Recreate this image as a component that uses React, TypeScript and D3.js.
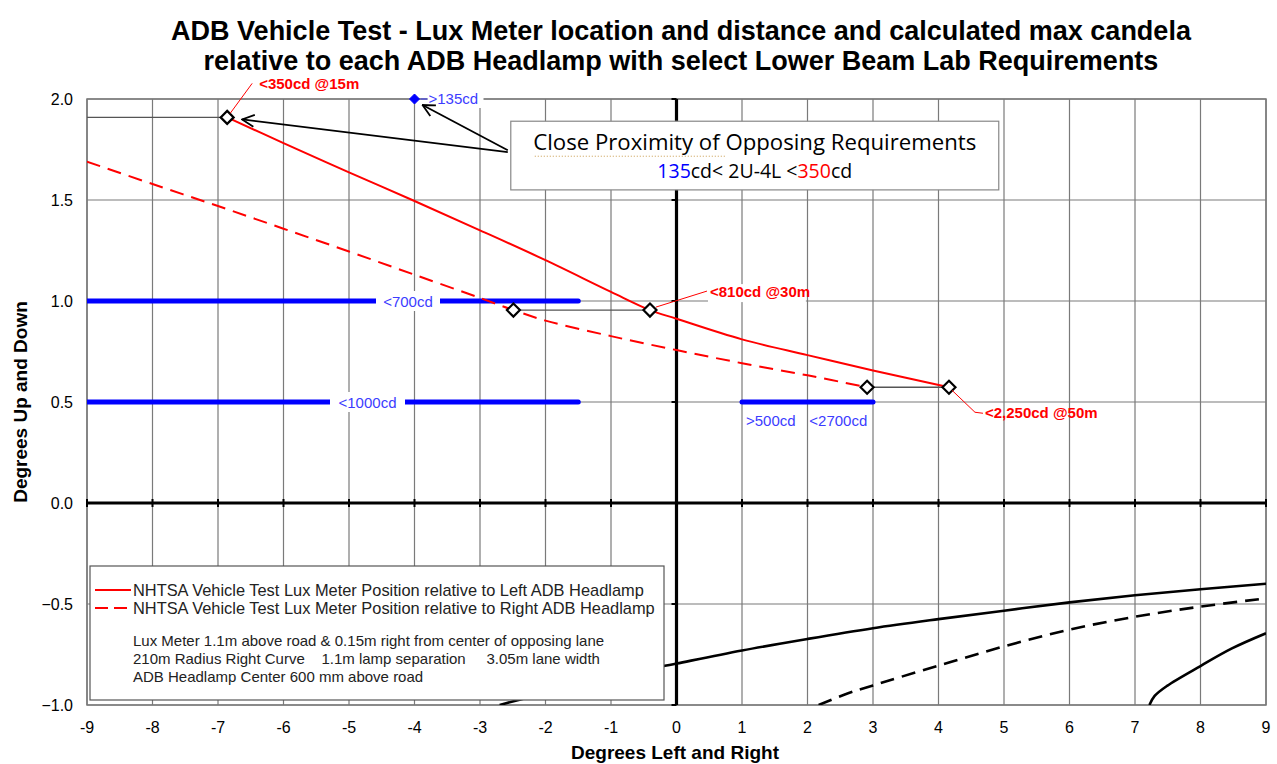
import React from "react";
import * as d3 from "d3";

// Lux meter path relative to the left ADB headlamp (degrees L/R, degrees U/D)
const leftLampDeg = [-6.86, -6, -5, -4, -3, -2, -1, -0.405, 0, 1, 2, 3, 4.16];
const leftLampUp = [1.909, 1.782, 1.637, 1.495, 1.35, 1.202, 1.045, 0.955, 0.912, 0.81, 0.732, 0.656, 0.573];

// Lux meter path relative to the right ADB headlamp
const rightLampDeg = [-9, -8, -7, -6, -5, -4, -3, -2.49, -2, -1, 0, 1, 2, 2.91];
const rightLampUp = [1.69, 1.579, 1.47, 1.358, 1.245, 1.13, 1.015, 0.955, 0.903, 0.826, 0.757, 0.692, 0.632, 0.573];

// Road geometry curves below the horizon
const roadSolidDeg = [-2.7, -2, -1, 0, 1, 2, 3, 4, 5, 6, 7, 8, 9];
const roadSolidUp = [-1.0, -0.94, -0.862, -0.795, -0.73, -0.673, -0.62, -0.575, -0.533, -0.492, -0.457, -0.427, -0.4];
const roadDashedDeg = [2.17, 2.62, 3, 4, 5, 6, 7, 8, 9];
const roadDashedUp = [-1.0, -0.942, -0.903, -0.805, -0.71, -0.627, -0.563, -0.513, -0.472];
const roadSteepDeg = [7.22, 7.3, 7.49, 8, 8.48, 9];
const roadSteepUp = [-1.0, -0.955, -0.905, -0.807, -0.72, -0.645];

// Measurement positions (diamonds)
const markerDeg = [-6.86, -2.49, -0.405, 2.91, 4.16];
const markerUp = [1.909, 0.955, 0.955, 0.573, 0.573];

// Max candela callouts at 15 m, 30 m and 50 m
const calloutText = ["<350cd @15m", "<810cd @30m", "<2,250cd @50m"];
const calloutDeg = [-6.86, -0.405, 4.16];
const calloutUp = [1.909, 0.955, 0.573];

// Lower beam lab requirement segments
const reqFromDeg = [-9, -9, 1];
const reqToDeg = [-1.5, -1.5, 3];
const reqUp = [1.0, 0.5, 0.5];
const reqPointDeg = -4;
const reqPointUp = 2.0;
const reqPointText = ">135cd";

const xTicks = [-9, -8, -7, -6, -5, -4, -3, -2, -1, 0, 1, 2, 3, 4, 5, 6, 7, 8, 9];
const yTicks = [-1.0, -0.5, 0.0, 0.5, 1.0, 1.5, 2.0];

const titleLines = [
  "ADB Vehicle Test - Lux Meter location and distance and calculated max candela",
  "relative to each ADB Headlamp with select Lower Beam Lab Requirements",
];
const legendLabels = [
  "NHTSA Vehicle Test Lux Meter Position relative to Left ADB Headlamp",
  "NHTSA Vehicle Test Lux Meter Position relative to Right ADB Headlamp",
];
const legendNotes = [
  "Lux Meter 1.1m above road & 0.15m right from center of opposing lane",
  "210m Radius Right Curve    1.1m lamp separation     3.05m lane width",
  "ADB Headlamp Center 600 mm above road",
];

const W = 1277;
const H = 764;
const L = 87;
const R = 1266;
const T = 99;
const B = 705;

const FONT = "'Liberation Sans', Arial, sans-serif";
const BOX_FONT = "'Open Sans', Lato, sans-serif";
const BLUE = "#0000ff";
const BLUE_TEXT = "#3c3cff";
const RED = "#ff0000";
const GRID = "#7a7a7a";

export default function App() {
  const x = d3.scaleLinear().domain([-9, 9]).range([L, R]);
  const y = d3.scaleLinear().domain([-1, 2]).range([B, T]);

  const line = d3
    .line<[number, number]>()
    .x((d) => x(d[0]))
    .y((d) => y(d[1]))
    .curve(d3.curveCatmullRom.alpha(0.5));

  const zip = (a: number[], b: number[]) => a.map((v, i) => [v, b[i]] as [number, number]);

  const diamond = (cx: number, cy: number, r: number) =>
    `M${cx},${cy - r}L${cx + r},${cy}L${cx},${cy + r}L${cx - r},${cy}Z`;

  // callout offsets (leader line path and text anchor) in pixels from each diamond
  const calloutLayout = [
    { leader: [[3, -4], [25, -34]], text: [32, -28], bg: false },
    { leader: [[6, -3], [57, -19]], text: [60, -13], bg: true },
    { leader: [[3, 3], [26, 25], [34, 26]], text: [36, 31], bg: false },
  ];

  const boxX0 = x(-2.53);
  const boxX1 = x(4.92);
  const boxY0 = y(1.89);
  const boxY1 = y(1.55);

  const arrowStart: [number, number] = [boxX0 - 3, boxY0 + 31];
  const arrowTargets: [number, number][] = [
    [x(markerDeg[0]) + 15, y(markerUp[0]) + 2],
    [x(reqPointDeg) + 8, y(reqPointUp) + 6],
  ];

  const legX = L + 3;
  const legY = 566;

  return (
    <svg
      width={W}
      height={H}
      style={{ position: "absolute", left: 0, top: 0, background: "#fff" }}
      fontFamily={FONT}
    >
      <defs>
        <clipPath id="plotClip">
          <rect x={L} y={T} width={R - L} height={B - T} />
        </clipPath>
        <marker
          id="openArrow"
          viewBox="0 0 14 14"
          refX="13"
          refY="7"
          markerWidth="14"
          markerHeight="14"
          markerUnits="userSpaceOnUse"
          orient="auto"
        >
          <path d="M1,1 L13,7 L1,13" fill="none" stroke="#000" strokeWidth="1.8" />
        </marker>
      </defs>
      <rect x={0} y={0} width={W} height={H} fill="#fff" />

      {/* Title */}
      {titleLines.map((t, i) => (
        <text key={t} x={681} y={40 + i * 30} textAnchor="middle" fontSize={27} fontWeight="bold" fill="#000">
          {t}
        </text>
      ))}

      {/* Grid */}
      {xTicks.map((v) => (
        <line key={"gx" + v} x1={x(v)} x2={x(v)} y1={T} y2={B} stroke={GRID} strokeWidth={1.2} />
      ))}
      {yTicks.map((v) => (
        <line key={"gy" + v} x1={L} x2={R} y1={y(v)} y2={y(v)} stroke={GRID} strokeWidth={1.2} />
      ))}
      <rect x={L} y={T} width={R - L} height={B - T} fill="none" stroke={GRID} strokeWidth={1.5} />

      {/* Main axes through the origin */}
      <line x1={x(0)} x2={x(0)} y1={T} y2={B} stroke="#000" strokeWidth={3.2} />
      <line x1={L} x2={R} y1={y(0)} y2={y(0)} stroke="#000" strokeWidth={3.2} />
      {xTicks.map((v) => (
        <line key={"tx" + v} x1={x(v)} x2={x(v)} y1={y(0) - 4} y2={y(0) + 4} stroke="#000" strokeWidth={2} />
      ))}
      {yTicks.map((v) => (
        <line key={"ty" + v} x1={x(0) - 5} x2={x(0)} y1={y(v)} y2={y(v)} stroke="#000" strokeWidth={2} />
      ))}

      {/* Tick labels */}
      {yTicks.map((v) => (
        <text key={"ly" + v} x={L - 14} y={y(v) + 5.5} textAnchor="end" fontSize={16} fill="#000">
          {d3.format(".1f")(v)}
        </text>
      ))}
      {xTicks.map((v) => (
        <text key={"lx" + v} x={x(v)} y={733} textAnchor="middle" fontSize={16} fill="#000">
          {v}
        </text>
      ))}

      {/* Axis titles */}
      <text x={675} y={759} textAnchor="middle" fontSize={19} fontWeight="bold">
        Degrees Left and Right
      </text>
      <text
        transform={`translate(27, ${(T + B) / 2}) rotate(-90)`}
        textAnchor="middle"
        fontSize={19}
        fontWeight="bold"
      >
        Degrees Up and Down
      </text>

      <g clipPath="url(#plotClip)">
        {/* Road geometry */}
        <path d={line(zip(roadSolidDeg, roadSolidUp)) || ""} fill="none" stroke="#000" strokeWidth={2.6} />
        <path
          d={line(zip(roadDashedDeg, roadDashedUp)) || ""}
          fill="none"
          stroke="#000"
          strokeWidth={2.6}
          strokeDasharray="14 8"
        />
        <path d={line(zip(roadSteepDeg, roadSteepUp)) || ""} fill="none" stroke="#000" strokeWidth={2.6} />

        {/* Horizontal connectors between the two headlamp positions */}
        <line x1={L} x2={x(markerDeg[0])} y1={y(markerUp[0])} y2={y(markerUp[0])} stroke="#555" strokeWidth={1.3} />
        <line
          x1={x(markerDeg[1])}
          x2={x(markerDeg[2])}
          y1={y(markerUp[1])}
          y2={y(markerUp[2])}
          stroke="#555"
          strokeWidth={1.3}
        />
        <line
          x1={x(markerDeg[3])}
          x2={x(markerDeg[4])}
          y1={y(markerUp[3])}
          y2={y(markerUp[4])}
          stroke="#555"
          strokeWidth={1.3}
        />

        {/* Requirement segments */}
        {reqUp.map((v, i) => (
          <line
            key={"req" + i}
            x1={x(reqFromDeg[i])}
            x2={x(reqToDeg[i])}
            y1={y(v)}
            y2={y(v)}
            stroke={BLUE}
            strokeWidth={5}
            strokeLinecap="round"
          />
        ))}

        {/* Lux meter paths */}
        <path d={line(zip(leftLampDeg, leftLampUp)) || ""} fill="none" stroke={RED} strokeWidth={2} />
        <path
          d={line(zip(rightLampDeg, rightLampUp)) || ""}
          fill="none"
          stroke={RED}
          strokeWidth={2}
          strokeDasharray="14 8"
        />
      </g>

      {/* Requirement labels */}
      <rect x={376} y={y(1.0) - 10} width={64} height={20} fill="#fff" />
      <text x={(376 + 440) / 2} y={y(1.0) + 5.5} textAnchor="middle" fontSize={15} fill={BLUE_TEXT}>
        {"<700cd"}
      </text>
      <rect x={330} y={y(0.5) - 10} width={75} height={20} fill="#fff" />
      <text x={(330 + 405) / 2} y={y(0.5) + 5.5} textAnchor="middle" fontSize={15} fill={BLUE_TEXT}>
        {"<1000cd"}
      </text>
      <text x={x(1.44)} y={y(0.5) + 24} textAnchor="middle" fontSize={15} fill={BLUE_TEXT}>
        {">500cd"}
      </text>
      <text x={x(2.47)} y={y(0.5) + 24} textAnchor="middle" fontSize={15} fill={BLUE_TEXT}>
        {"<2700cd"}
      </text>

      {/* >135cd point at 2U-4L */}
      <rect x={x(reqPointDeg) + 13} y={y(reqPointUp) - 9} width={56} height={18} fill="#fff" />
      <line
        x1={x(reqPointDeg) + 6}
        x2={x(reqPointDeg) + 13}
        y1={y(reqPointUp)}
        y2={y(reqPointUp)}
        stroke={BLUE_TEXT}
        strokeWidth={1}
      />
      <text x={x(reqPointDeg) + 14} y={y(reqPointUp) + 5} fontSize={15} fill={BLUE_TEXT}>
        {reqPointText}
      </text>
      <path d={diamond(x(reqPointDeg), y(reqPointUp), 5)} fill={BLUE} stroke={BLUE} strokeWidth={1} />

      {/* Measurement diamonds */}
      {markerDeg.map((v, i) => (
        <path
          key={"mk" + i}
          d={diamond(x(v), y(markerUp[i]), 6.5)}
          fill="#fff"
          stroke="#000"
          strokeWidth={2.2}
        />
      ))}

      {/* Candela callouts */}
      {calloutText.map((t, i) => {
        const cx = x(calloutDeg[i]);
        const cy = y(calloutUp[i]);
        const lay = calloutLayout[i];
        const pts = lay.leader.map((p) => `${cx + p[0]},${cy + p[1]}`).join(" L");
        const tx = cx + lay.text[0];
        const ty = cy + lay.text[1];
        return (
          <g key={t}>
            <path d={"M" + pts} fill="none" stroke={RED} strokeWidth={1} />
            {lay.bg && <rect x={tx - 2} y={ty - 13} width={t.length * 8.9} height={18} fill="#fff" />}
            <text x={tx} y={ty} fontSize={15} fontWeight="bold" fill={RED}>
              {t}
            </text>
          </g>
        );
      })}

      {/* Annotation box with arrows */}
      {arrowTargets.map((p, i) => (
        <line
          key={"ar" + i}
          x1={arrowStart[0]}
          y1={arrowStart[1] - i * 2}
          x2={p[0]}
          y2={p[1]}
          stroke="#000"
          strokeWidth={1.8}
          markerEnd="url(#openArrow)"
        />
      ))}
      <rect x={boxX0} y={boxY0} width={boxX1 - boxX0} height={boxY1 - boxY0} fill="#fff" stroke="#888" strokeWidth={1.2} />
      <text
        x={(boxX0 + boxX1) / 2}
        y={boxY0 + 29}
        textAnchor="middle"
        fontSize={22.2}
        fontFamily={BOX_FONT}
        fill="#000"
      >
        Close Proximity of Opposing Requirements
      </text>
      <line
        x1={boxX0 + 24}
        x2={boxX0 + 216}
        y1={boxY0 + 35}
        y2={boxY0 + 35}
        stroke="#c89a4a"
        strokeWidth={1}
        strokeDasharray="1 2"
      />
      <text
        x={(boxX0 + boxX1) / 2}
        y={boxY0 + 57}
        textAnchor="middle"
        fontSize={19.5}
        fontFamily={BOX_FONT}
        fill="#000"
      >
        <tspan fill={BLUE}>135</tspan>
        <tspan>{"cd< 2U-4L <"}</tspan>
        <tspan fill={RED}>350</tspan>
        <tspan>cd</tspan>
      </text>

      {/* Legend */}
      <rect x={legX} y={legY} width={574} height={134} fill="#fff" stroke="#555" strokeWidth={1.2} />
      {legendLabels.map((t, i) => (
        <g key={t}>
          <line
            x1={legX + 5}
            x2={legX + 41}
            y1={legY + 24 + i * 18}
            y2={legY + 24 + i * 18}
            stroke={RED}
            strokeWidth={2}
            strokeDasharray={i === 1 ? "13 6" : undefined}
          />
          <text x={legX + 43} y={legY + 30 + i * 18} fontSize={16.4} fill="#222">
            {t}
          </text>
        </g>
      ))}
      {legendNotes.map((t, i) => (
        <text key={t} x={legX + 43} y={legY + 80 + i * 18} fontSize={15} fill="#222" xmlSpace="preserve">
          {t}
        </text>
      ))}
    </svg>
  );
}
